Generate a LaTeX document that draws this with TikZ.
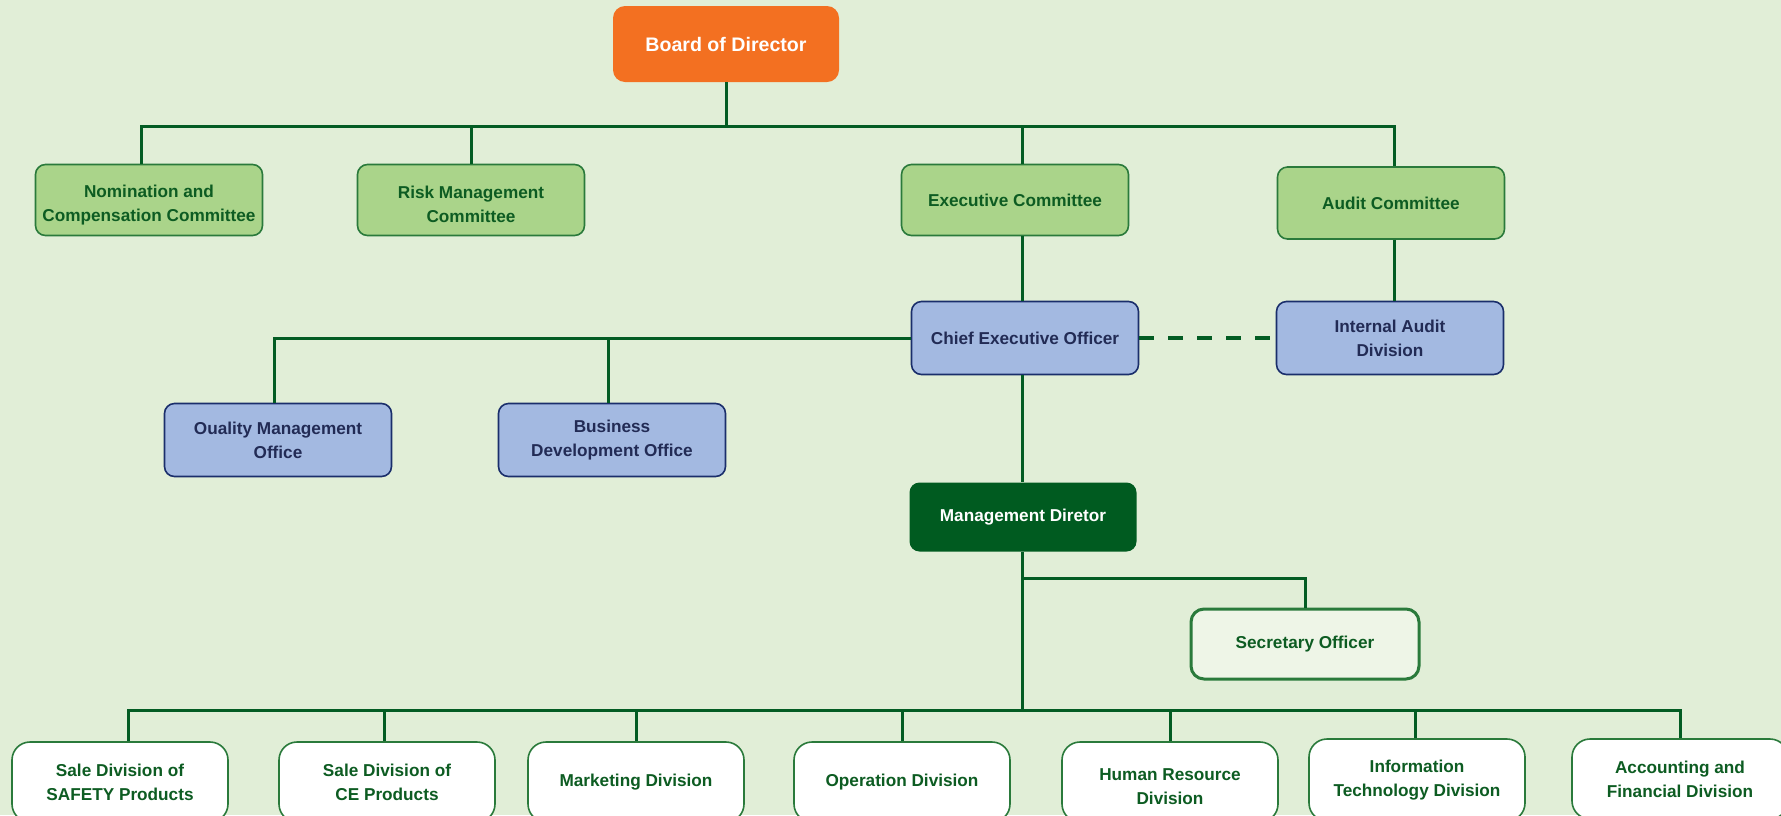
\documentclass[tikz,border=0pt]{standalone}
\usepackage{fontspec}
\setmainfont{Liberation Sans}
\definecolor{bg}{HTML}{E1EED7}
\definecolor{orangebox}{HTML}{F37021}
\definecolor{greenfill}{HTML}{AAD48A}
\definecolor{greenborder}{HTML}{2A7A3B}
\definecolor{greentext}{HTML}{0D5C22}
\definecolor{linecol}{HTML}{035C23}
\definecolor{bluefill}{HTML}{A3B9E1}
\definecolor{blueborder}{HTML}{1A2E6B}
\definecolor{bluetext}{HTML}{222B55}
\definecolor{mdfill}{HTML}{005B20}
\definecolor{secfill}{HTML}{EEF5E7}
\newcommand{\lowstrut}{\rule{0pt}{11pt}}
\begin{document}
\begin{tikzpicture}[x=0.5pt,y=-0.5pt,
  every node/.style={align=center,font=\fontsize{8.6}{12}\selectfont\bfseries,inner sep=0pt},
  boardbox/.style={fill=orangebox,rounded corners=6pt,minimum width=113pt,minimum height=38pt,text=white,font=\fontsize{9.8}{12}\selectfont\bfseries},
  greenbox/.style={fill=greenfill,draw=greenborder,line width=0.8pt,rounded corners=5pt,minimum width=113.5pt,minimum height=35.5pt,text=greentext},
  bluebox/.style={fill=bluefill,draw=blueborder,line width=0.8pt,rounded corners=5pt,minimum width=113.5pt,minimum height=36.5pt,text=bluetext},
  mdbox/.style={fill=mdfill,rounded corners=5pt,minimum width=113.5pt,minimum height=34.5pt,text=white},
  secbox/.style={fill=secfill,draw=greenborder,line width=1.5pt,rounded corners=6.5pt,minimum width=114pt,minimum height=35pt,text=greentext},
  divbox/.style={fill=white,draw=greenborder,line width=0.8pt,rounded corners=9pt,minimum width=108pt,minimum height=40pt,text=greentext},
  conn/.style={draw=linecol,line width=1.5pt},
  dashconn/.style={draw=linecol,line width=1.7pt,dash pattern=on 7.5pt off 7pt}]
\fill[bg] (0,0) rectangle (1781,815);
\useasboundingbox (0,0) rectangle (1781,815);

\coordinate (spine) at (1022,0);
\coordinate (bus1) at (0,126);
\coordinate (secbus) at (0,578);
\coordinate (bus3) at (0,710);

\node[boardbox] (board) at (726,44) {Board of Director};
\node[greenbox] (nom) at (149,200) {\lowstrut Nomination and\\Compensation Committee};
\node[greenbox] (risk) at (471,200) {\lowstrut Risk Management\\Committee};
\node[greenbox] (exec) at (1015,200) {Executive Committee};
\node[greenbox,minimum height=36pt] (audit) at (1391,203) {Audit Committee};
\node[bluebox] (ceo) at (1025,338) {Chief Executive Officer};
\node[bluebox] (intaudit) at (1390,338) {Internal Audit\\Division};
\node[bluebox] (qmo) at (278,440) {Ouality Management\\Office};
\node[bluebox] (bdo) at (612,440) {Business\\Development Office};
\node[mdbox] (md) at (1023,517) {Management Diretor};
\node[secbox] (sec) at (1305,644) {Secretary Officer};
\node[divbox] (safety) at (120,782) {Sale Division of\\SAFETY Products};
\node[divbox] (ce) at (387,782) {Sale Division of\\CE Products};
\node[divbox] (mkt) at (636,782) {Marketing Division};
\node[divbox] (op) at (902,782) {Operation Division};
\node[divbox] (hr) at (1170,782) {\lowstrut Human Resource\\Division};
\node[divbox,minimum height=41pt] (it) at (1417,780) {Information\\Technology Division};
\node[divbox] (acc) at (1680,779) {Accounting and\\Financial Division};

% board level
\draw[conn] (board.south) -- (board.south |- bus1);
\draw[conn] ([xshift=-4pt]nom.north) -- ([xshift=-4pt]nom.north |- bus1) -- ([xshift=1.5pt]audit.north |- bus1) -- ([xshift=1.5pt]audit.north);
\draw[conn] (risk.north) -- (risk.north |- bus1);
\draw[conn] (exec.north -| spine) -- (spine |- bus1);
% committee to officers
\draw[conn] (exec.south -| spine) -- (ceo.north -| spine);
\draw[conn] ([xshift=1.5pt]audit.south) -- ([xshift=1.5pt]audit.south |- intaudit.north);
% CEO level
\draw[conn] ([xshift=-2pt]qmo.north) |- (ceo.west);
\draw[conn] ([xshift=-2pt]bdo.north) -- ([xshift=-2pt]bdo.north |- ceo.west);
\draw[dashconn] (ceo.east) -- (intaudit.west);
\draw[conn] (ceo.south -| spine) -- (md.north -| spine);
% MD level
\draw[conn] (md.south -| spine) -- (spine |- bus3);
\draw[conn] (spine |- secbus) -| (sec.north);
\draw[conn] ([xshift=4pt]safety.north) -- ([xshift=4pt]safety.north |- bus3) -- (acc.north |- bus3) -- (acc.north);
\draw[conn] ([xshift=-1.5pt]ce.north) -- ([xshift=-1.5pt]ce.north |- bus3);
\draw[conn] (mkt.north) -- (mkt.north |- bus3);
\draw[conn] (op.north) -- (op.north |- bus3);
\draw[conn] (hr.north) -- (hr.north |- bus3);
\draw[conn] ([xshift=-1pt]it.north) -- ([xshift=-1pt]it.north |- bus3);
\end{tikzpicture}
\end{document}
